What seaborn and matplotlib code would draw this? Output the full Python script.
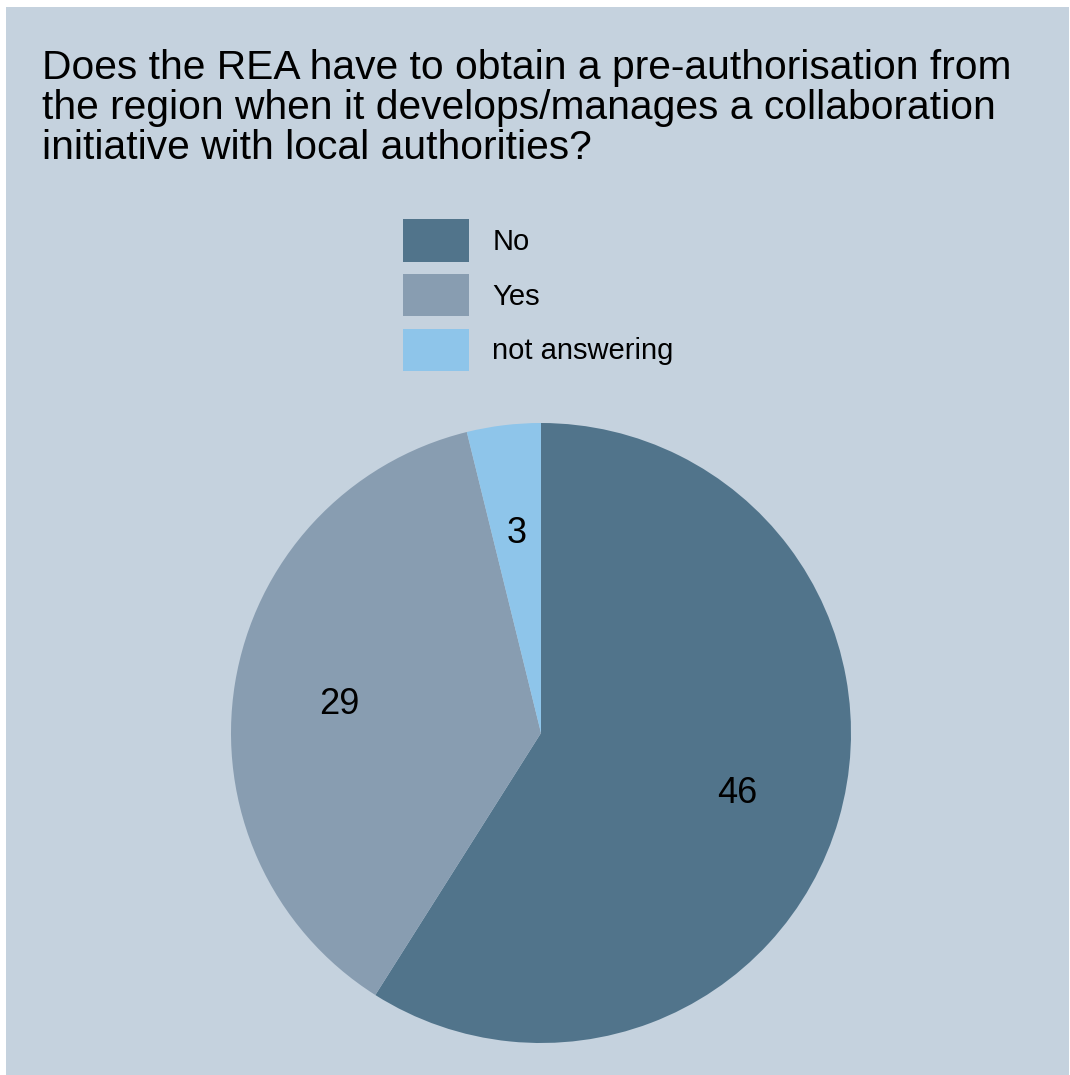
import matplotlib
matplotlib.use("Agg")
import matplotlib.pyplot as plt
import seaborn as sns

categories = ["No", "Yes", "not answering"]
counts = [46, 29, 3]
colors = ["#51748b", "#889db1", "#8ec5ea"]
title = ("Does the REA have to obtain a pre-authorisation from\n"
         "the region when it develops/manages a collaboration\n"
         "initiative with local authorities?")

sns.set_theme(style="white")
plt.rcParams['font.family'] = ['Liberation Sans', 'DejaVu Sans']

W, H = 1070, 1075
fig = plt.figure(figsize=(W / 100, H / 100), dpi=100, facecolor="white")

# background panel
bg = fig.add_axes([6 / W, 0, (1069 - 6) / W, (H - 7) / H])
bg.set_facecolor("#c5d2de")
bg.set_xticks([])
bg.set_yticks([])
for s in bg.spines.values():
    s.set_visible(False)

fig.text(42 / W, 1 - 49 / H, title, fontsize=29.3, va="top", ha="left",
         linespacing=1.06, color="black")

cx, cy, r = 541, 733, 310
ax = fig.add_axes([(cx - r) / W, (H - cy - r) / H, 2 * r / W, 2 * r / H])
wedges, texts = ax.pie(counts, colors=colors, startangle=90, counterclock=False,
                       labels=[str(c) for c in counts], labeldistance=0.66,
                       wedgeprops=dict(linewidth=0),
                       textprops=dict(fontsize=26, color="black", ha="center",
                                      va="center_baseline"))
ax.set_xlim(-1, 1)
ax.set_ylim(-1, 1)
ax.set_aspect("equal")
ax.axis("off")

leg = fig.legend(wedges, categories, loc="upper left",
                 bbox_to_anchor=(383 / W, 1 - 199 / H), frameon=False,
                 fontsize=21, handlelength=2.26, handleheight=1.86,
                 labelspacing=0.42, handletextpad=0.79, borderpad=0.2)
for t in leg.get_texts():
    t.set_color("black")

fig.savefig("out.png", dpi=100, facecolor=fig.get_facecolor())
